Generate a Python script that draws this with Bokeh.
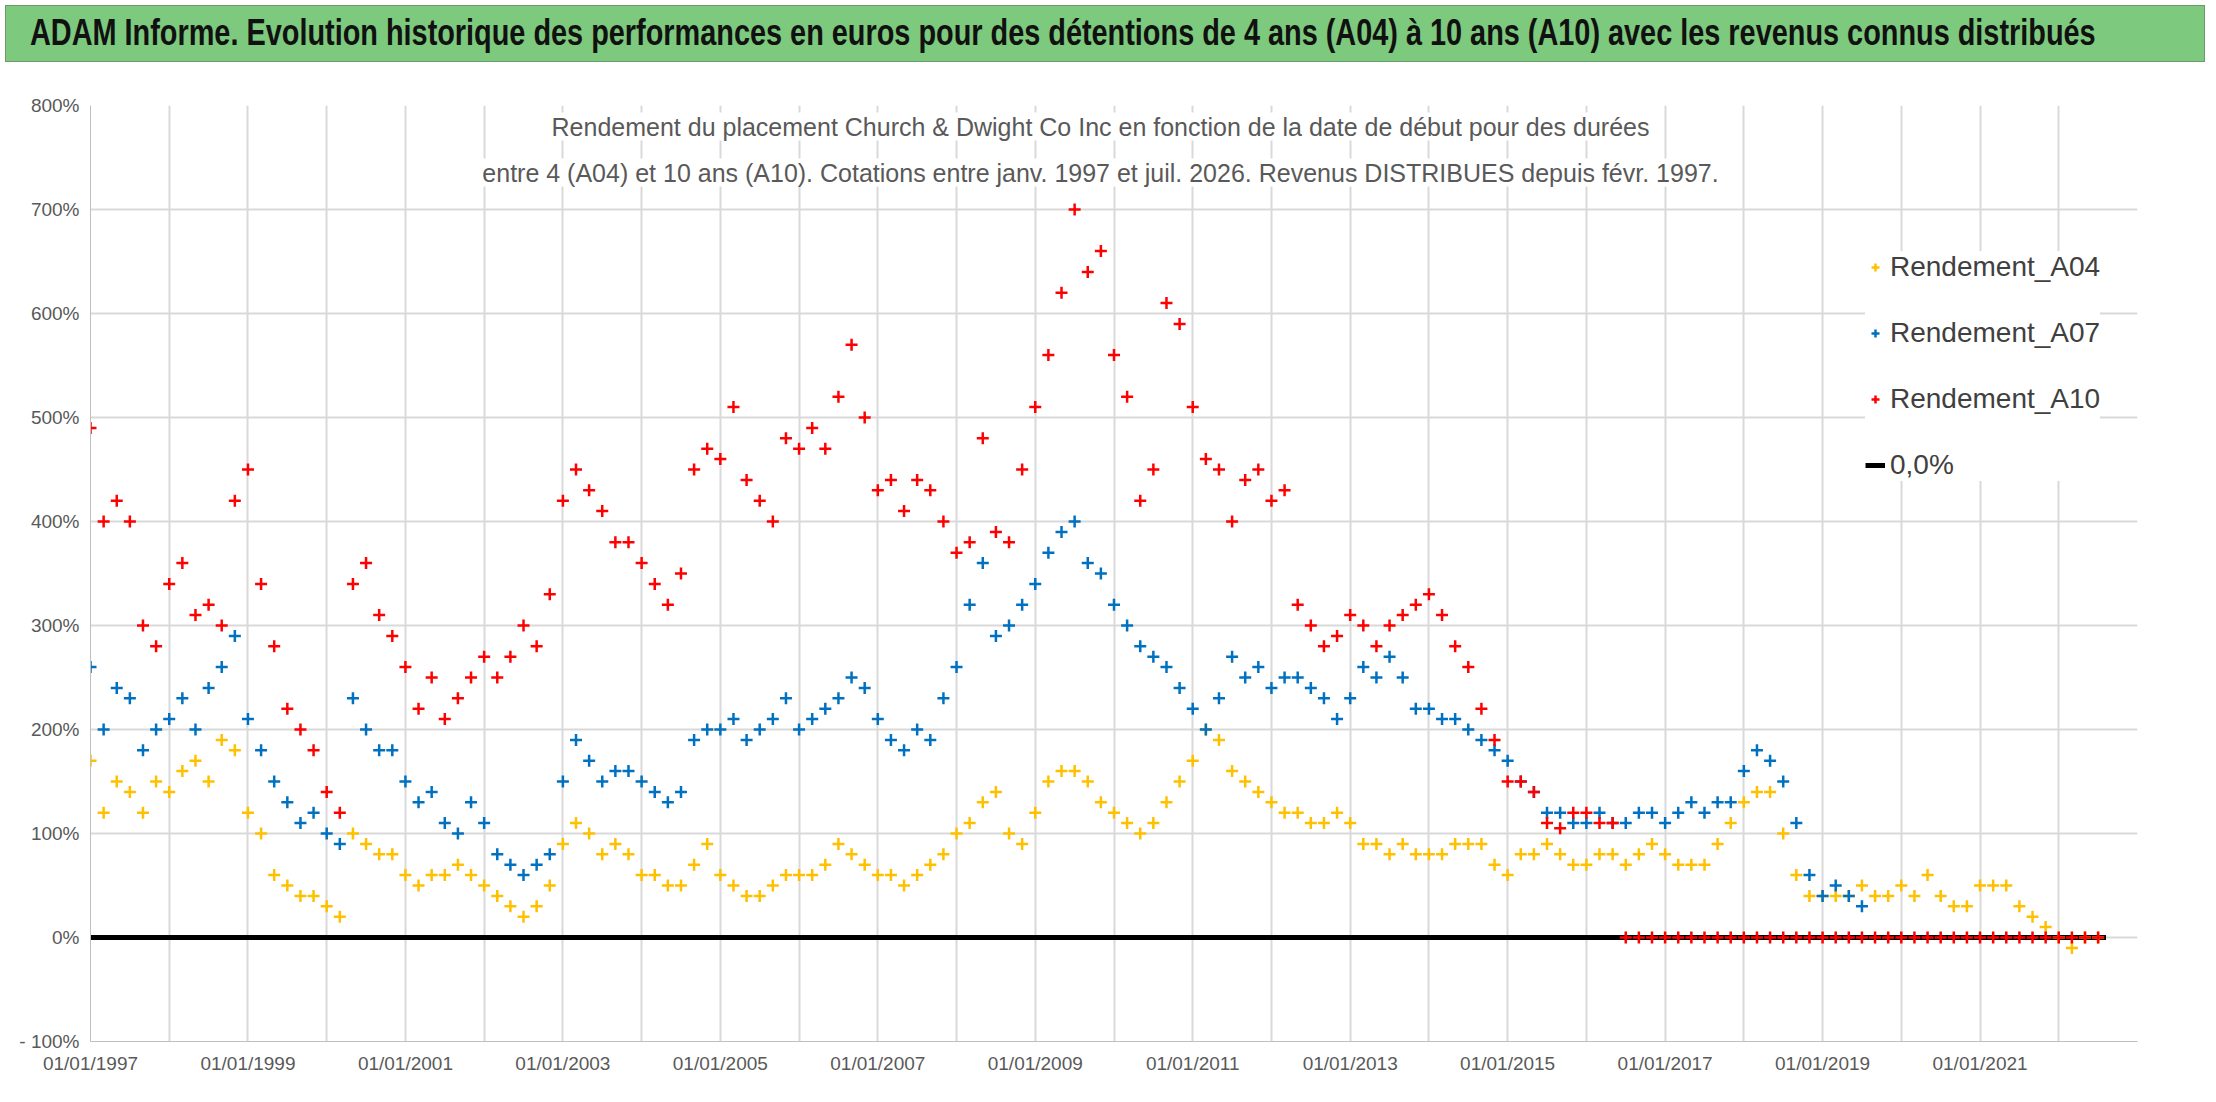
from bokeh.plotting import figure
from bokeh.models import Div, Legend, LegendItem, Label, FixedTicker, Range1d
from bokeh.layouts import column
from bokeh.embed import file_html
from bokeh.resources import INLINE

start_year = 1997.0
step = 1/6  # two-month sampling

a10 = [490,400,420,400,300,280, 340,360,310,320,300,420, 450,340,280,220,200,180,
       140,120,340,360,310,290, 260,220,250,210,230,250, 270,250,270,300,280,330,
       420,450,430,410,380,380, 360,340,320,350,450,470, 460,510,440,420,400,480,
       470,490,470,520,570,500, 430,440,410,440,430,400, 370,380,480,390,380,450,
       510,560,620,700,640,660, 560,520,420,450,610,590, 510,460,450,400,440,450,
       420,430,320,300,280,290, 310,300,280,300,310,320, 330,310,280,260,220,190,
       150,150,140,110,105,120, 120,110,110,
       0,0,0, 0,0,0,0,0,0, 0,0,0,0,0,0, 0,0,0,0,0,0, 0,0,0,0,0,0, 0,0,0,0,0,0, 0,0,0,0]
a07 = [260,200,240,230,180,200, 210,230,200,240,260,290, 210,180,150,130,110,120,
       100,90,230,200,180,180, 150,130,140,110,100,130, 110,80,70,60,70,80,
       150,190,170,150,160,160, 150,140,130,140,190,200, 200,210,190,200,210,230,
       200,210,220,230,250,240, 210,190,180,200,190,230, 260,320,360,290,300,320,
       340,370,390,400,360,350, 320,300,280,270,260,240, 220,200,230,270,250,260,
       240,250,250,240,230,210, 230,260,250,270,250,220, 220,210,210,200,190,180,
       170,150,140,120,120,110, 110,120,110,110,120,120, 110,120,130,120,130,130,
       160,180,170,150,110,60, 40,50,40,30]
a04 = [170,120,150,140,120,150, 140,160,170,150,190,180, 120,100,60,50,40,40,
       30,20,100,90,80,80, 60,50,60,60,70,60, 50,40,30,20,30,50,
       90,110,100,80,90,80, 60,60,50,50,70,90, 60,50,40,40,50,60,
       60,60,70,90,80,70, 60,60,50,60,70,80, 100,110,130,140,100,90,
       120,150,160,160,150,130, 120,110,100,110,130,150, 170,200,190,160,150,140,
       130,120,120,110,110,120, 110,90,90,80,90,80, 80,80,90,90,90,70,
       60,80,80,90,80,70, 70,80,80,70,80,90, 80,70,70,70,90,110,
       130,140,140,100,60,40, 40,40,40,50,40,40, 50,40,60,40,30,30,
       50,50,50,30,20,10, 0,-10,0,0]
zero_line_x = [1997.0, 2022.6]
zero_line_y = [0, 0]

tick_years = list(range(1997, 2024))
label_years = list(range(1997, 2023, 2))
y_ticks = list(range(-100, 801, 100))

FONT = "Liberation Sans"

def xs(vals):
    return [start_year + i*step for i in range(len(vals))]

title = Div(text='<span style="display:inline-block;transform:scaleX(0.78);transform-origin:left center;">ADAM Informe. Evolution historique des performances en euros pour des détentions de 4 ans (A04) à 10 ans (A10) avec les revenus connus distribués</span>',
            width=2200, height=57,
            styles={"background-color": "#7dc97d", "font-family": FONT,
                    "font-weight": "bold", "font-size": "37px", "color": "#111",
                    "text-align": "left", "padding-left": "24px", "line-height": "54px", "box-sizing": "border-box",
                    "border": "1px solid #6a9a6a", "width": "2200px", "white-space": "nowrap",
                    "overflow": "hidden"})

p = figure(width=2200, height=1035, output_backend="svg", toolbar_location=None,
           x_range=Range1d(1997.0, 2023.0), y_range=Range1d(-100, 800),
           min_border_left=90, min_border_right=63, min_border_top=38, min_border_bottom=61)
p.outline_line_color = None
p.xgrid.grid_line_color = "#d9d9d9"
p.ygrid.grid_line_color = "#d9d9d9"
p.xgrid.grid_line_width = 2
p.ygrid.grid_line_width = 2
p.xaxis.ticker = FixedTicker(ticks=tick_years)
p.xaxis.major_label_overrides = {y: (f"01/01/{y}" if y in label_years else "") for y in tick_years}
p.yaxis.ticker = FixedTicker(ticks=y_ticks)
p.yaxis.major_label_overrides = {v: ("- 100%" if v == -100 else f"{v}%") for v in y_ticks}
for ax in (p.xaxis, p.yaxis):
    ax.axis_line_color = "#bfbfbf"
    ax.major_tick_line_color = None
    ax.minor_tick_line_color = None
    ax.major_label_text_font = FONT
    ax.major_label_text_font_size = "19px"
    ax.major_label_text_color = "#595959"

rz = p.line(zero_line_x, zero_line_y, line_width=5, color="black")
r4 = p.scatter(xs(a04), a04, marker="cross", size=12, line_width=2.5, color="#FFC000")
r7 = p.scatter(xs(a07), a07, marker="cross", size=12, line_width=2.5, color="#0070C0")
r10 = p.scatter(xs(a10), a10, marker="cross", size=12, line_width=2.5, color="#FF0000")

sub_lines = ["Rendement du placement Church & Dwight Co Inc en fonction de la date de début pour des durées",
             "entre 4 (A04) et 10 ans (A10). Cotations entre janv. 1997 et juil. 2026. Revenus DISTRIBUES depuis févr. 1997."]
for i, t in enumerate(sub_lines):
    p.add_layout(Label(x=1010, y=915 - i*46, x_units="screen", y_units="screen", text_align="center",
                       text_baseline="middle", text=t, text_font=FONT, text_font_size="25px",
                       text_color="#595959", background_fill_color="white"))

leg = Legend(items=[LegendItem(label="Rendement_A04", renderers=[r4]),
                    LegendItem(label="Rendement_A07", renderers=[r7]),
                    LegendItem(label="Rendement_A10", renderers=[r10]),
                    LegendItem(label="0,0%", renderers=[rz])],
             location=(1775, 560), label_text_font=FONT, label_text_font_size="28px",
             label_text_color="#404040", spacing=34, border_line_color=None, background_fill_color="white",
             background_fill_alpha=1, padding=20)
p.add_layout(leg)

open("out.html", "w").write(file_html(column(title, p, spacing=0), INLINE))
